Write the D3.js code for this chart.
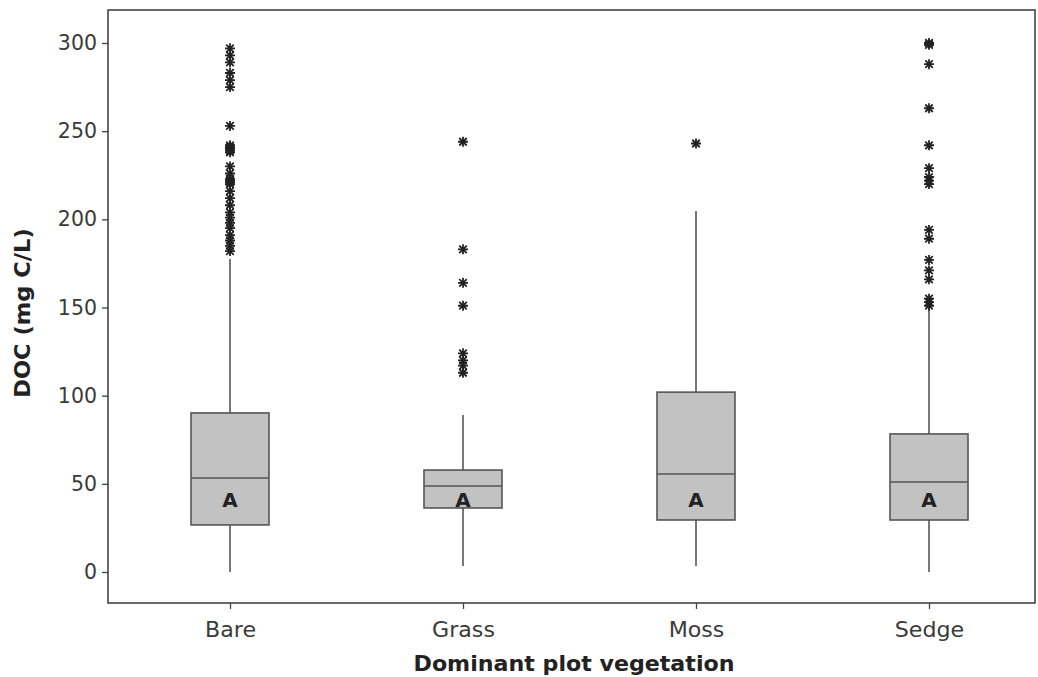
<!DOCTYPE html>
<html><head><meta charset="utf-8">
<script src="https://cdn.jsdelivr.net/npm/d3@7"></script>
<style>body{margin:0;background:#fff}svg{display:block}</style>
</head><body>
<svg id="c" width="1038" height="677"></svg>
<script>
const categories = ["Bare","Grass","Moss","Sedge"];
const whiskerLow  = [0, 3.4, 3.4, 0];
const q1          = [26.7, 36.3, 29.5, 29.5];
const median      = [53.3, 48.8, 55.6, 51];
const q3          = [90.2, 57.8, 102, 78.3];
const whiskerHigh = [177.5, 89, 204.7, 154];
const letters     = ["A","A","A","A"];
const outliersBare  = [297,293,289,283,279,275,253,242,241,240,239,238,230,226,223,222,221,220,216,212,208,204,201,198,195,191,188,185,182];
const outliersGrass = [244,183,164,151,124,120,117,113];
const outliersMoss  = [243];
const outliersSedge = [300,299,288,263,242,229,224,222,220,194,189,177,171,166,155,153,151];
const outliers = [outliersBare, outliersGrass, outliersMoss, outliersSedge];
const yTicks = [0,50,100,150,200,250,300];

const svg = d3.select("#c");
const L = 108, R = 1035, T = 10, B = 603;
const x = d3.scalePoint().domain(categories).range([230, 929]);
const y = d3.scaleLinear().domain([0, 300]).range([572, 43]);
const font = "'DejaVu Sans', Verdana, sans-serif";
const boxW = 78;
const stretch = (sel, k) => sel.each(function () {
  const len = this.getComputedTextLength();
  d3.select(this).attr("textLength", len * k).attr("lengthAdjust", "spacingAndGlyphs");
});

// frame
svg.append("rect").attr("x", L).attr("y", T).attr("width", R - L).attr("height", B - T)
  .attr("fill", "none").attr("stroke", "#444").attr("stroke-width", 1.6);

// y axis
const yAxis = svg.append("g").attr("transform", `translate(${L},0)`)
  .call(d3.axisLeft(y).tickValues(yTicks).tickSize(6).tickPadding(5));
yAxis.select(".domain").remove();
yAxis.selectAll("line").attr("stroke", "#444").attr("stroke-width", 1.3);
yAxis.selectAll("text").attr("font-family", font).attr("font-size", 20.5).attr("fill", "#3a3a3a");

// x axis
const xAxis = svg.append("g").attr("transform", `translate(0,${B})`)
  .call(d3.axisBottom(x).tickSize(6).tickPadding(13));
xAxis.select(".domain").remove();
xAxis.selectAll("line").attr("stroke", "#444").attr("stroke-width", 1.3);
xAxis.selectAll("text").attr("font-family", font).attr("font-size", 20.5).attr("fill", "#3a3a3a")
  .call(stretch, 1.08);

// titles
svg.append("text").attr("x", 574).attr("y", 671).attr("text-anchor", "middle")
  .attr("font-family", font).attr("font-weight", "bold").attr("font-size", 20.5).attr("fill", "#222")
  .text("Dominant plot vegetation").call(stretch, 1.08);
svg.append("text").attr("transform", "translate(30,313) rotate(-90)").attr("text-anchor", "middle")
  .attr("font-family", font).attr("font-weight", "bold").attr("font-size", 20.5).attr("fill", "#222")
  .text("DOC (mg C/L)").call(stretch, 1.1);

// boxes
const g = svg.append("g");
categories.forEach((c, i) => {
  const cx = x(c);
  g.append("line").attr("x1", cx).attr("x2", cx).attr("y1", y(whiskerHigh[i])).attr("y2", y(q3[i]))
    .attr("stroke", "#555").attr("stroke-width", 1.6);
  g.append("line").attr("x1", cx).attr("x2", cx).attr("y1", y(q1[i])).attr("y2", y(whiskerLow[i]))
    .attr("stroke", "#555").attr("stroke-width", 1.6);
  g.append("rect").attr("x", cx - boxW / 2).attr("y", y(q3[i])).attr("width", boxW)
    .attr("height", y(q1[i]) - y(q3[i])).attr("fill", "#c2c2c2").attr("stroke", "#555").attr("stroke-width", 1.6);
  g.append("line").attr("x1", cx - boxW / 2).attr("x2", cx + boxW / 2).attr("y1", y(median[i])).attr("y2", y(median[i]))
    .attr("stroke", "#555").attr("stroke-width", 1.6);
  g.append("text").attr("x", cx).attr("y", y(41) + 7).attr("text-anchor", "middle")
    .attr("font-family", font).attr("font-weight", "bold").attr("font-size", 20).attr("fill", "#222")
    .text(letters[i]);
  const s = 5;
  outliers[i].forEach(v => {
    const py = y(v);
    g.append("path")
      .attr("d", `M${cx - s},${py}H${cx + s}M${cx},${py - s}V${py + s}M${cx - s * 0.75},${py - s * 0.75}L${cx + s * 0.75},${py + s * 0.75}M${cx - s * 0.75},${py + s * 0.75}L${cx + s * 0.75},${py - s * 0.75}`)
      .attr("stroke", "#222").attr("stroke-width", 1.8).attr("fill", "none");
  });
});
</script>
</body></html>
